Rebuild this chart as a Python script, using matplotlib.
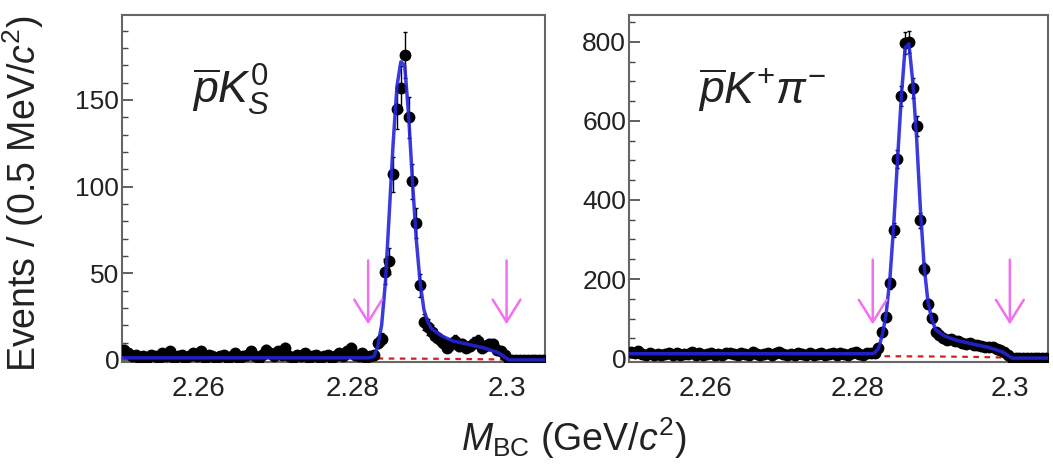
import numpy as np
import matplotlib
matplotlib.use("Agg")
import matplotlib.pyplot as plt
from matplotlib.ticker import MultipleLocator

plt.rcParams['font.family'] = ['Liberation Sans', 'DejaVu Sans']
plt.rcParams['mathtext.fontset'] = 'custom'
plt.rcParams['mathtext.rm'] = 'Liberation Sans'
plt.rcParams['mathtext.it'] = 'Liberation Sans:italic'
plt.rcParams['mathtext.bf'] = 'Liberation Sans:bold'

# M_BC histogram: 0.5 MeV bins from 2.250 to 2.305 GeV
bin_lo, bin_hi, bin_w = 2.25, 2.305, 0.0005

# counts per bin, pbar K_S0
counts_ks = [6, 4, 2, 3, 1, 2, 1, 3, 2, 1, 4, 2, 5, 1, 2, 3, 1, 2, 4, 2,
             5, 1, 3, 2, 1, 2, 3, 1, 2, 4, 1, 2, 3, 5, 2, 1, 3, 6, 4, 2,
             5, 3, 7, 2, 1, 3, 2, 4, 1, 2, 3, 1, 2, 3, 1, 2, 4, 2, 5, 7,
             3, 2, 4, 1, 2, 3, 10, 12, 51, 57, 107, 145, 157, 176, 140, 103, 79, 43, 22, 19,
             16, 14, 12, 10, 7, 9, 11, 8, 9, 7, 8, 10, 11, 7, 8, 9, 9, 6, 5, 3,
             0, 0, 0, 0, 0, 0, 0, 0, 0, 0]

# counts per bin, pbar K+ pi-
counts_kpi = [16, 12, 18, 10, 8, 12, 9, 11, 7, 10, 12, 8, 14, 9, 11, 10, 15, 8, 12, 9,
              10, 13, 7, 11, 9, 12, 14, 10, 8, 12, 11, 9, 15, 10, 8, 11, 13, 9, 12, 16,
              10, 8, 11, 9, 13, 10, 7, 12, 9, 11, 14, 8, 10, 12, 9, 13, 11, 8, 12, 15,
              10, 9, 13, 14, 12, 25, 67, 105, 189, 324, 503, 663, 797, 800, 683, 587, 349, 225, 138, 101,
              67, 58, 50, 46, 48, 42, 44, 38, 36, 37, 33, 34, 30, 28, 29, 27, 24, 20, 15, 7,
              0, 0, 0, 0, 0, 0, 0, 0, 0, 0]

# fit curves
fit_x_ks = [2.25, 2.282, 2.28275, 2.28325, 2.28375, 2.28425, 2.28475, 2.28525, 2.28575,
            2.28625, 2.28675, 2.28725, 2.28775, 2.28825, 2.28875, 2.28925, 2.28975,
            2.29025, 2.2915, 2.293, 2.295, 2.297, 2.299, 2.2998, 2.3003, 2.305]
fit_y_ks = [1.2, 1.2, 2, 8, 20, 45, 85, 125, 158,
            172, 170, 142, 104, 70, 45, 29, 22,
            18, 14, 11, 9, 7, 4, 1.5, 0, 0]

fit_x_kpi = [2.25, 2.2817, 2.28225, 2.28275, 2.28325, 2.28375, 2.28425, 2.28475, 2.28525,
             2.28575, 2.28625, 2.28675, 2.28725, 2.28775, 2.28825, 2.28875, 2.28925,
             2.28975, 2.29025, 2.2915, 2.293, 2.295, 2.297, 2.299, 2.2998, 2.3003, 2.305]
fit_y_kpi = [11, 11, 13, 24, 58, 110, 200, 335, 500,
             660, 785, 795, 700, 560, 380, 232, 142,
             98, 72, 55, 45, 36, 28, 16, 6, 0, 0]

# background (red dashed)
bkg_x = [2.25, 2.27, 2.28, 2.29, 2.295, 2.299, 2.3]
bkg_ks = [1.0, 1.0, 0.9, 0.7, 0.5, 0.3, 0]
bkg_kpi = [7, 6, 5, 4, 3, 1.5, 0]

# signal-region cut arrows
cut_lo, cut_hi = 2.282, 2.300

centers = np.arange(bin_lo + bin_w / 2, bin_hi, bin_w)

fig = plt.figure(figsize=(10.53, 4.67), dpi=100)
ax1 = fig.add_axes([0.1159, 0.2248, 0.4017, 0.7431])
ax2 = fig.add_axes([0.5973, 0.2248, 0.3979, 0.7431])

panels = [
    (ax1, counts_ks, fit_x_ks, fit_y_ks, bkg_ks, (-1.2, 199), 50, 10, (19, 59),
     r'$\overline{p}K^0_S$'),
    (ax2, counts_kpi, fit_x_kpi, fit_y_kpi, bkg_kpi, (-10, 868), 200, 50, (78, 256),
     r'$\overline{p}K^{+}\pi^{-}$'),
]

arrow_col = '#f070f0'
for ax, counts, fx, fy, bkg, ylim, major, minor, arr, label in panels:
    counts = np.array(counts, dtype=float)
    ax.plot(bkg_x, bkg, color='#d02020', ls=(0, (2.5, 2.5)), lw=1.6, zorder=2)
    ax.errorbar(centers, counts, yerr=np.sqrt(counts), fmt='o', color='black',
                ms=7.5, elinewidth=1, capsize=1.5, zorder=3)
    ax.plot(fx, fy, color='#2424dc', lw=2.5, alpha=0.9, zorder=4)

    for xc in (cut_lo, cut_hi):
        ax.annotate('', xy=(xc, arr[0]), xytext=(xc, arr[1]),
                    arrowprops=dict(arrowstyle='->,head_length=1.6,head_width=1.0',
                                    color=arrow_col, lw=1.8), zorder=5)

    ax.text(0.165, 0.745, label, transform=ax.transAxes, fontsize=32,
            va='baseline', ha='left', color='#222222')

    ax.set_xlim(bin_lo, bin_hi)
    ax.set_ylim(*ylim)
    ax.set_xticks([2.26, 2.28, 2.3])
    ax.set_xticklabels(['2.26', '2.28', '2.3'])
    ax.yaxis.set_major_locator(MultipleLocator(major))
    ax.yaxis.set_minor_locator(MultipleLocator(minor))
    ax.tick_params(axis='y', which='major', direction='in', length=8, width=1.2,
                   labelsize=19, colors='#444444', labelcolor='#222222', pad=2)
    ax.tick_params(axis='y', which='minor', direction='in', length=4, width=1,
                   colors='#444444')
    ax.tick_params(axis='x', which='major', direction='in', length=0,
                   labelsize=20, labelcolor='#222222', pad=10)
    for s in ax.spines.values():
        s.set_color('#666666')
        s.set_linewidth(1.5)

fig.text(0.022, 0.585, r'Events / (0.5 MeV/$c^2$)', rotation=90, fontsize=27,
         ha='center', va='center', color='#222222')
fig.text(0.545, 0.035, r'$M_{\rm BC}$ (GeV/$c^2$)', fontsize=27,
         ha='center', va='baseline', color='#222222')

fig.savefig('out.png', dpi=100)
